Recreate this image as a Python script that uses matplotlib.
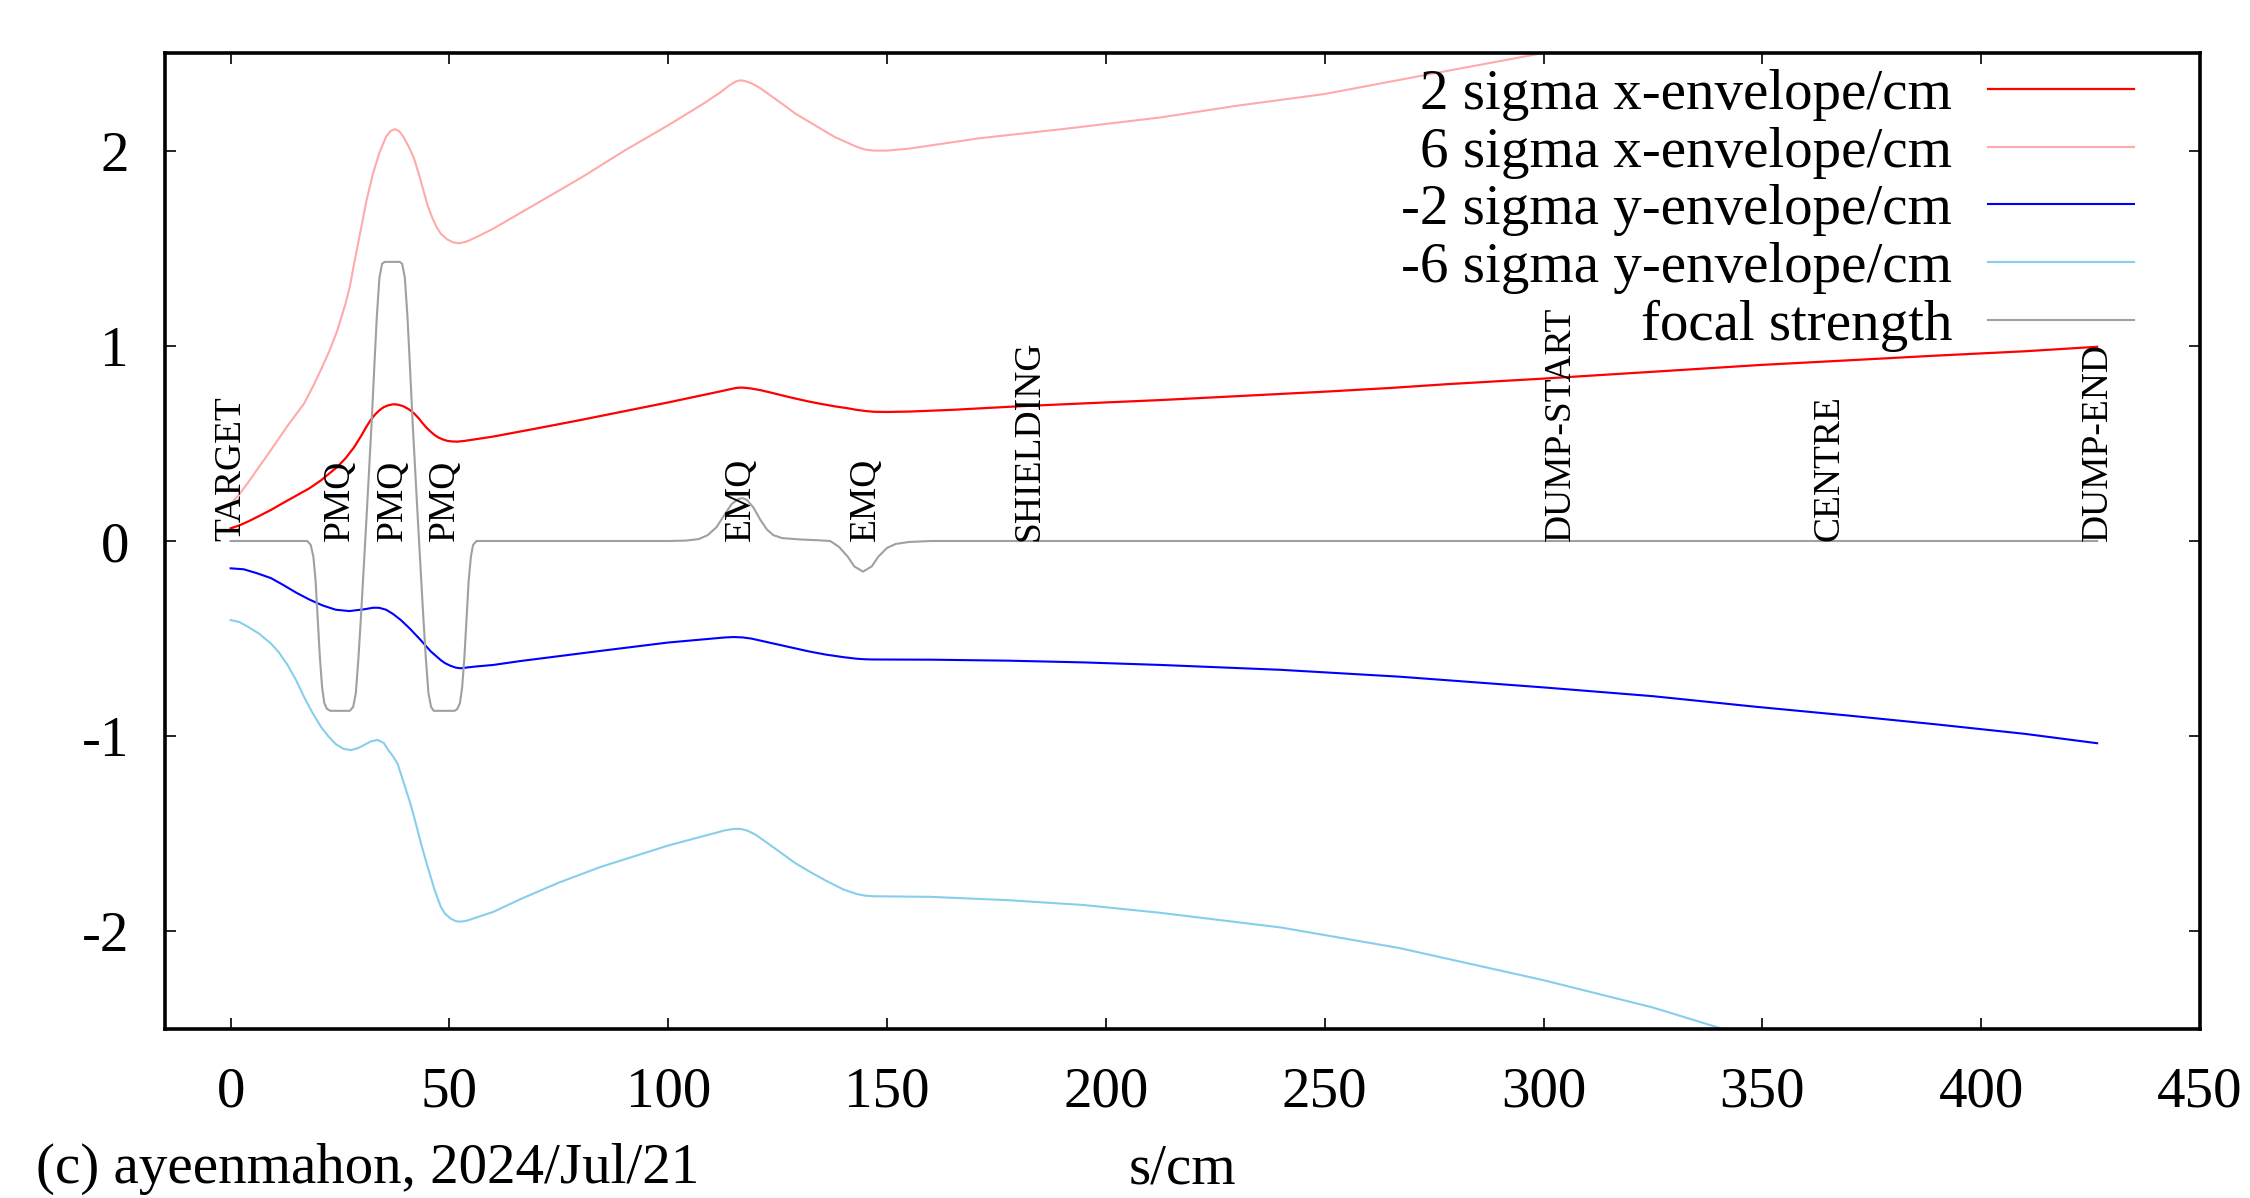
import matplotlib
matplotlib.use("Agg")
import matplotlib.pyplot as plt

plt.rcParams['font.family'] = ['Liberation Serif', 'DejaVu Serif']
plt.rcParams['axes.unicode_minus'] = False

# beam envelopes along the line (s in cm)
s_red = [0, 2, 4, 6.5, 9.2, 12, 14, 16, 18, 20.6, 22.5, 24.4, 26.3, 28.2, 30, 31, 32, 33, 34, 35, 36, 37,
         37.7, 38.5, 39.5, 40.7, 41.9, 43, 43.8, 44.7, 45.7, 46.6, 47.5, 48.5, 49.5, 50.6, 51.8, 53.5, 55,
         60, 70, 80, 90, 100, 108, 112, 114, 115.5, 116.5, 117.5, 119, 121, 123.5, 126, 129, 132, 135,
         138, 141, 143, 145, 147, 150, 155, 165, 180, 195, 212.5, 230, 250, 265, 278.4, 300, 325, 349.7,
         370, 390, 410, 426.5]
x2_env = [0.065, 0.08, 0.10, 0.128, 0.159, 0.195, 0.22, 0.245, 0.27, 0.31, 0.345, 0.38, 0.425, 0.48, 0.545,
          0.585, 0.62, 0.648, 0.67, 0.686, 0.695, 0.70, 0.70, 0.697, 0.69, 0.675, 0.654, 0.628, 0.605, 0.582,
          0.56, 0.543, 0.53, 0.52, 0.513, 0.51, 0.509, 0.513, 0.518, 0.535, 0.577, 0.62, 0.665, 0.71, 0.748,
          0.767, 0.777, 0.784, 0.786, 0.785, 0.781, 0.773, 0.76, 0.746, 0.73, 0.715, 0.702, 0.69, 0.68, 0.672,
          0.666, 0.662, 0.661, 0.663, 0.672, 0.69, 0.705, 0.722, 0.742, 0.765, 0.784, 0.804, 0.832, 0.867,
          0.902, 0.926, 0.95, 0.972, 0.995]

s_pink = [0, 2, 4, 6.5, 9.2, 13, 16.8, 19, 20.6, 22.5, 24.4, 26.3, 27.3, 28.2, 29.7, 31, 32.5, 34, 35.5,
          36.5, 37.5, 38.5, 39.5, 40.7, 41.9, 43, 44, 45, 46, 47, 48, 49.5, 50.8, 52.2, 54, 56, 60, 70, 80,
          90, 100, 108, 112, 114, 115.5, 116.5, 117.5, 119, 121, 123.5, 126, 129, 132, 135, 138, 140, 143,
          145, 147, 150, 155, 171, 190, 212.5, 230, 250, 278.4, 300, 325, 350, 390, 426.5]
x6_env = [0.19, 0.24, 0.30, 0.38, 0.466, 0.59, 0.705, 0.80, 0.876, 0.97, 1.08, 1.22, 1.31, 1.42, 1.59, 1.74,
          1.88, 1.99, 2.07, 2.10, 2.11, 2.10, 2.07, 2.02, 1.96, 1.88, 1.80, 1.72, 1.66, 1.61, 1.575, 1.545,
          1.53, 1.525, 1.535, 1.555, 1.60, 1.73, 1.86, 2.0, 2.13, 2.24, 2.30, 2.335, 2.355, 2.36, 2.357,
          2.345, 2.32, 2.28, 2.24, 2.19, 2.15, 2.11, 2.07, 2.05, 2.02, 2.005, 2.0, 2.0, 2.01, 2.063, 2.11,
          2.17, 2.23, 2.29, 2.41, 2.5, 2.6, 2.71, 2.85, 2.98]

s_blue = [0, 3, 6, 9.2, 12, 15, 18, 21, 24, 27.1, 30.5, 32.5, 33.9, 35.5, 37, 38.9, 41, 43.4, 45.7, 48, 49,
          50.3, 51.5, 52.6, 54, 56, 60, 66.2, 75, 84.5, 100, 110, 113, 115, 117, 119, 121, 123, 125, 129,
          132, 136, 140, 143, 145, 147, 160, 177.6, 195, 212.5, 240, 267, 300, 325, 348.4, 370, 390, 410,
          426.5]
y2_env = [-0.14, -0.145, -0.165, -0.19, -0.225, -0.265, -0.30, -0.33, -0.352, -0.359, -0.35, -0.342, -0.342,
          -0.352, -0.372, -0.405, -0.45, -0.507, -0.565, -0.61, -0.626, -0.64, -0.649, -0.652, -0.648, -0.643,
          -0.635, -0.615, -0.59, -0.563, -0.52, -0.50, -0.494, -0.492, -0.494, -0.50, -0.51, -0.52, -0.53,
          -0.55, -0.565, -0.582, -0.595, -0.603, -0.606, -0.607, -0.608, -0.613, -0.622, -0.635, -0.66,
          -0.695, -0.75, -0.795, -0.849, -0.895, -0.94, -0.988, -1.036]

s_sky = [0, 2, 4, 6.5, 9.2, 11, 13, 15, 16.8, 18.7, 20.6, 22.3, 24, 25.8, 27.5, 29, 30.5, 32, 33.6, 35, 36,
         37, 38.1, 39, 40, 41, 41.9, 43.5, 45, 46.5, 47.3, 48, 49, 50.3, 51.5, 52.6, 54, 56, 60, 66.2, 75,
         84.5, 100, 110, 113, 115, 116.5, 118, 120, 122.5, 125, 129, 132, 136, 140, 143, 145, 147, 160,
         177.6, 195, 212.5, 240, 267, 300, 325, 341, 370, 400, 426.5]
y6_env = [-0.405, -0.415, -0.44, -0.475, -0.525, -0.57, -0.635, -0.715, -0.80, -0.88, -0.951, -1.0, -1.04,
          -1.065, -1.071, -1.062, -1.045, -1.027, -1.019, -1.035, -1.07, -1.10, -1.139, -1.2, -1.27, -1.34,
          -1.412, -1.55, -1.668, -1.78, -1.83, -1.873, -1.91, -1.935, -1.948, -1.95, -1.945, -1.93, -1.90,
          -1.835, -1.75, -1.67, -1.56, -1.50, -1.482, -1.475, -1.475, -1.483, -1.505, -1.545, -1.585, -1.65,
          -1.69, -1.74, -1.785, -1.808, -1.817, -1.82, -1.823, -1.84, -1.865, -1.905, -1.98, -2.085, -2.25,
          -2.39, -2.5, -2.68, -2.88, -3.11]

# focal strength of the magnets
s_focal = [0, 17.5, 18.3, 18.9, 19.4, 19.9, 20.4, 20.9, 21.4, 22.0, 22.8, 27.2, 28.0, 28.6, 29.2, 29.8,
           30.4, 31.0, 31.6, 32.2, 32.8, 33.4, 34.0, 34.6, 35.2, 38.6, 39.2, 39.8, 40.4, 41.0, 41.6, 42.2,
           42.8, 43.4, 44.0, 44.6, 45.2, 45.8, 46.4, 51.2, 51.8, 52.4, 52.9, 53.4, 53.9, 54.4, 54.9, 55.4,
           56.2, 100, 104, 107, 109, 111, 113, 114.5, 116, 117, 118, 119.5, 121, 122.5, 124, 126, 130, 134,
           137, 139, 141, 142.5, 144.5, 146.5, 148, 150, 152, 155, 160, 426.5]
focal = [0, 0, -0.02, -0.08, -0.2, -0.4, -0.6, -0.75, -0.83, -0.86, -0.87, -0.87, -0.85, -0.78, -0.6,
         -0.38, -0.14, 0.1, 0.35, 0.6, 0.88, 1.15, 1.35, 1.42, 1.43, 1.43, 1.42, 1.35, 1.15, 0.88, 0.6,
         0.35, 0.1, -0.14, -0.38, -0.6, -0.78, -0.85, -0.87, -0.87, -0.86, -0.83, -0.75, -0.6, -0.4, -0.2,
         -0.08, -0.02, 0, 0, 0.002, 0.01, 0.03, 0.07, 0.14, 0.19, 0.215, 0.22, 0.21, 0.17, 0.11, 0.06, 0.03,
         0.015, 0.008, 0.004, 0.0, -0.03, -0.08, -0.13, -0.157, -0.13, -0.08, -0.035, -0.015, -0.005, 0, 0]

element_names = ["TARGET", "PMQ", "PMQ", "PMQ", "EMQ", "EMQ", "SHIELDING", "DUMP-START", "CENTRE", "DUMP-END"]
element_pos = [0, 25, 37, 49, 116.5, 145, 182.5, 304, 365.25, 426.5]

W, H = 2250, 1198
fig = plt.figure(figsize=(W / 100, H / 100), dpi=100)
ax = fig.add_axes([165 / W, 1 - 1029 / H, (2200 - 165) / W, (1029 - 53) / H])

ax.plot(s_red, x2_env, color='#ff0000', lw=1.6, label='2 sigma x-envelope/cm')
ax.plot(s_pink, x6_env, color='#ffaaaa', lw=1.5, label='6 sigma x-envelope/cm')
ax.plot(s_blue, y2_env, color='#0000ff', lw=1.5, label='-2 sigma y-envelope/cm')
ax.plot(s_sky, y6_env, color='#87ceeb', lw=1.5, label='-6 sigma y-envelope/cm')
ax.plot(s_focal, focal, color='#a0a0a0', lw=1.5, label='focal strength')

for name, pos in zip(element_names, element_pos):
    ax.text(pos, 0, name, rotation=90, ha='center', va='bottom', fontsize=27)

ax.set_xlim(-15, 450)
ax.set_ylim(-2.5, 2.5)
ax.set_xticks(range(0, 451, 50))
ax.set_yticks([-2, -1, 0, 1, 2])
ax.tick_params(direction='in', top=True, right=True, length=8, width=1.2,
               labelsize=41, pad=27)
ax.tick_params(axis='y', pad=26)
for sp in ax.spines.values():
    sp.set_linewidth(2.6)

ax.set_xlabel('s/cm', fontsize=41, labelpad=18)

leg = ax.legend(loc='upper right', bbox_to_anchor=(2134 / W, 1 - 69 / H),
                bbox_transform=fig.transFigure, frameon=False, markerfirst=False,
                fontsize=41, handlelength=2.56, handletextpad=0.63, labelspacing=0.1,
                borderpad=0, borderaxespad=0)

fig.text(36 / W, 1 - 1143 / H, '(c) ayeenmahon, 2024/Jul/21', fontsize=41, va='top', ha='left')

fig.savefig('out.png', dpi=100)
